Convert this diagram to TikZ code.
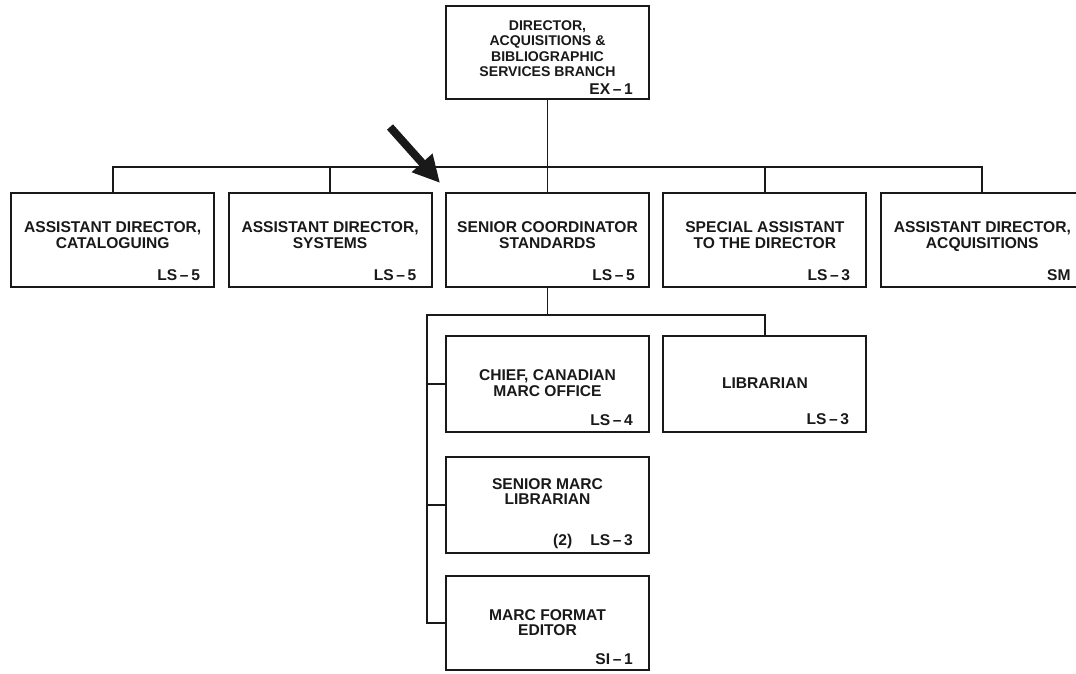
\documentclass[tikz,border=0pt]{standalone}
\usepackage{fontspec}
\setmainfont{Liberation Sans}
\usepackage{tikz}
\usetikzlibrary{arrows.meta, calc, positioning}

\begin{document}
\begin{tikzpicture}[
node distance= 47pt and 12.5pt,
     base/.style = {draw=black!90, line width=1.9pt, align=center,
                    minimum width=203pt, minimum height=96pt, inner sep=0pt,
                    text=black!90, text depth=2pt,
                    font=\bfseries\fontsize{15.6}{15.5}\selectfont},
    upper/.style = {base, minimum height=94pt, text depth=10pt},
     head/.style = {base, minimum height=93pt, text depth=8pt,
                    font=\bfseries\fontsize{14.1}{15.3}\selectfont},
    grade/.style = {anchor=base east, inner sep=0pt, text=black!90,
                    font=\bfseries\fontsize{15.6}{15.5}\selectfont},
     link/.style = {draw=black!90, line width=1.8pt},
  pointer/.style = {black!90, line width=8pt,
                    -{Triangle[length=27pt, width=26pt]}}
                    ]
\useasboundingbox (0,0) rectangle (1076pt,-673pt);
 % main
\node (dir)  [head] at (547.5pt,-52.5pt) {DIRECTOR,\\ACQUISITIONS \&\\BIBLIOGRAPHIC\\SERVICES BRANCH};
\node (box3) [upper, below=92pt of dir]  {SENIOR COORDINATOR\\STANDARDS};
\node (box2) [upper, left=of box3]       {ASSISTANT DIRECTOR,\\SYSTEMS};
\node (box1) [upper, left=of box2]       {ASSISTANT DIRECTOR,\\CATALOGUING};
\node (box4) [upper, right=of box3]      {SPECIAL ASSISTANT\\TO THE DIRECTOR};
\node (box5) [upper, right=of box4]      {ASSISTANT DIRECTOR,\\ACQUISITIONS};
 % standards section
\node (box6) [base, below=of box3]      {CHIEF, CANADIAN\\MARC OFFICE};
\node (box7) [base, right=of box6]      {LIBRARIAN};
\node (box8) [base, below=23pt of box6, text depth=26.5pt] {SENIOR MARC\\LIBRARIAN};
\node (box9) [base, below=21pt of box8, minimum height=94pt, text depth=0pt] {MARC FORMAT\\EDITOR};

 % levels
\node (grade0) [grade] at ([shift={(-17pt,5.5pt)}]dir.south east)  {EX\,--\,1};
\node (grade1) [grade] at ([shift={(-15pt,7.5pt)}]box1.south east) {LS\,--\,5};
\node (grade2) [grade] at ([shift={(-16pt,7.5pt)}]box2.south east) {LS\,--\,5};
\node (grade3) [grade] at ([shift={(-15pt,7.5pt)}]box3.south east) {LS\,--\,5};
\node (grade4) [grade] at ([shift={(-17pt,7.5pt)}]box4.south east) {LS\,--\,3};
\node (grade5) [grade] at ([shift={(-14pt,7.5pt)}]box5.south east) {SM};
\node (grade6) [grade] at ([shift={(-17pt,7.5pt)}]box6.south east) {LS\,--\,4};
\node (grade7) [grade] at ([shift={(-18pt,8.5pt)}]box7.south east) {LS\,--\,3};
\node (grade8) [grade] at ([shift={(-17pt,8pt)}]box8.south east)   {(2)\hspace{18pt}LS\,--\,3};
\node (grade9) [grade] at ([shift={(-17pt,6.5pt)}]box9.south east) {SI\,--\,1};

\node (above_row)  [coordinate, below=67pt of dir] {};   %% bus over the first row
\node (below_box3) [coordinate, below=27pt of box3] {};  %% bus under standards
\node (left_box6)  [coordinate, left=18pt of box6] {};   %% spine on the left

\draw[link] (dir.south) -- (above_row);
\draw[link] (box1.north) |- (above_row) -| (box5.north);
\draw[link] (box2.north) -- (box2.north |- above_row);
\draw[link] (box3.north) -- (box3.north |- above_row);
\draw[link] (box4.north) -- (box4.north |- above_row);

\draw[link] (box3.south) -- (below_box3);
\draw[link] (box7.north) |- (below_box3) -| (left_box6 |- box9.west) -- (box9.west);
\draw[link] (left_box6) -- (box6.west);
\draw[link] (left_box6 |- box8.west) -- (box8.west);

 % pointer
\node (ptail) [coordinate] at (390pt,-127pt) {};
\node (ptip)  [coordinate, above left=9pt and 5pt of box3.north west] {};
\draw[pointer] (ptail) -- (ptip);
\end{tikzpicture}
\end{document}
